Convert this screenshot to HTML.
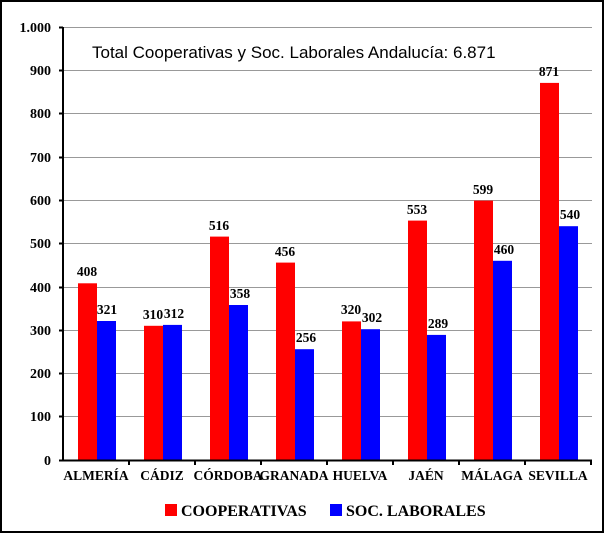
<!DOCTYPE html><html><head><style>body{margin:0;background:#fff}svg{display:block}</style></head><body>
<svg width="604" height="533" xmlns="http://www.w3.org/2000/svg" font-family="Liberation Serif, serif" font-weight="bold">
<rect x="1" y="1" width="602" height="531" fill="#fff" stroke="#000" stroke-width="2"/>
<g stroke="#999" stroke-width="1">
<line x1="63" x2="592" y1="27.5" y2="27.5"/><line x1="63" x2="592" y1="70.5" y2="70.5"/><line x1="63" x2="592" y1="113.5" y2="113.5"/><line x1="63" x2="592" y1="157.5" y2="157.5"/><line x1="63" x2="592" y1="200.5" y2="200.5"/><line x1="63" x2="592" y1="243.5" y2="243.5"/><line x1="63" x2="592" y1="287.5" y2="287.5"/><line x1="63" x2="592" y1="330.5" y2="330.5"/><line x1="63" x2="592" y1="373.5" y2="373.5"/><line x1="63" x2="592" y1="416.5" y2="416.5"/>
</g>
<g font-size="14" text-anchor="end">
<text x="51" y="32">1.000</text><text x="51" y="75">900</text><text x="51" y="118">800</text><text x="51" y="162">700</text><text x="51" y="205">600</text><text x="51" y="248">500</text><text x="51" y="292">400</text><text x="51" y="335">300</text><text x="51" y="378">200</text><text x="51" y="421">100</text><text x="51" y="465">0</text>
</g>
<text x="92" y="58" font-family="Liberation Sans, sans-serif" font-weight="normal" font-size="17">Total Cooperativas y Soc. Laborales Andalucía: 6.871</text>
<g fill="#f00">
<rect x="78" y="283.3" width="19" height="176.7"/>
<rect x="144" y="325.8" width="19" height="134.2"/>
<rect x="210" y="236.6" width="19" height="223.4"/>
<rect x="276" y="262.6" width="19" height="197.4"/>
<rect x="342" y="321.4" width="19" height="138.6"/>
<rect x="408" y="220.6" width="19" height="239.4"/>
<rect x="474" y="200.6" width="19" height="259.4"/>
<rect x="540" y="82.9" width="19" height="377.1"/>
</g>
<g fill="#00f">
<rect x="97" y="321" width="19" height="139"/>
<rect x="163" y="324.9" width="19" height="135.1"/>
<rect x="229" y="305" width="19" height="155"/>
<rect x="295" y="349.2" width="19" height="110.8"/>
<rect x="361" y="329.2" width="19" height="130.8"/>
<rect x="427" y="334.9" width="19" height="125.1"/>
<rect x="493" y="260.8" width="19" height="199.2"/>
<rect x="559" y="226.2" width="19" height="233.8"/>
</g>
<g font-size="13.5" text-anchor="middle">
<text x="87" y="276">408</text><text x="107" y="314">321</text>
<text x="153" y="319">310</text><text x="174" y="318">312</text>
<text x="219" y="230">516</text><text x="240" y="298">358</text>
<text x="285" y="256">456</text><text x="306" y="342">256</text>
<text x="351" y="314">320</text><text x="372" y="322">302</text>
<text x="417" y="214">553</text><text x="438" y="328">289</text>
<text x="483" y="194">599</text><text x="504" y="254">460</text>
<text x="549" y="76">871</text><text x="570" y="219">540</text>
</g>
<line x1="63" y1="27" x2="63" y2="461" stroke="#000" stroke-width="2"/>
<line x1="59" y1="460.5" x2="592" y2="460.5" stroke="#000" stroke-width="2"/>
<g stroke="#000" stroke-width="2">
<line x1="59" x2="63" y1="27.5" y2="27.5"/><line x1="59" x2="63" y1="70.5" y2="70.5"/><line x1="59" x2="63" y1="113.5" y2="113.5"/><line x1="59" x2="63" y1="157.5" y2="157.5"/><line x1="59" x2="63" y1="200.5" y2="200.5"/><line x1="59" x2="63" y1="243.5" y2="243.5"/><line x1="59" x2="63" y1="287.5" y2="287.5"/><line x1="59" x2="63" y1="330.5" y2="330.5"/><line x1="59" x2="63" y1="373.5" y2="373.5"/><line x1="59" x2="63" y1="416.5" y2="416.5"/>
<line x1="129" x2="129" y1="460" y2="465"/><line x1="195" x2="195" y1="460" y2="465"/><line x1="261" x2="261" y1="460" y2="465"/><line x1="327" x2="327" y1="460" y2="465"/><line x1="393" x2="393" y1="460" y2="465"/><line x1="459" x2="459" y1="460" y2="465"/><line x1="525" x2="525" y1="460" y2="465"/><line x1="591" x2="591" y1="460" y2="465"/>
</g>
<g font-size="13.5" text-anchor="middle">
<text x="96" y="480">ALMERÍA</text><text x="162" y="480">CÁDIZ</text><text x="228" y="480">CÓRDOBA</text><text x="294" y="480">GRANADA</text><text x="360" y="480">HUELVA</text><text x="426" y="480">JAÉN</text><text x="492" y="480">MÁLAGA</text><text x="558" y="480">SEVILLA</text>
</g>
<rect x="165" y="504" width="12" height="12" fill="#f00"/>
<text x="181" y="516" font-size="16">COOPERATIVAS</text>
<rect x="330" y="504" width="12" height="12" fill="#00f"/>
<text x="346" y="516" font-size="16">SOC. LABORALES</text>
</svg></body></html>
